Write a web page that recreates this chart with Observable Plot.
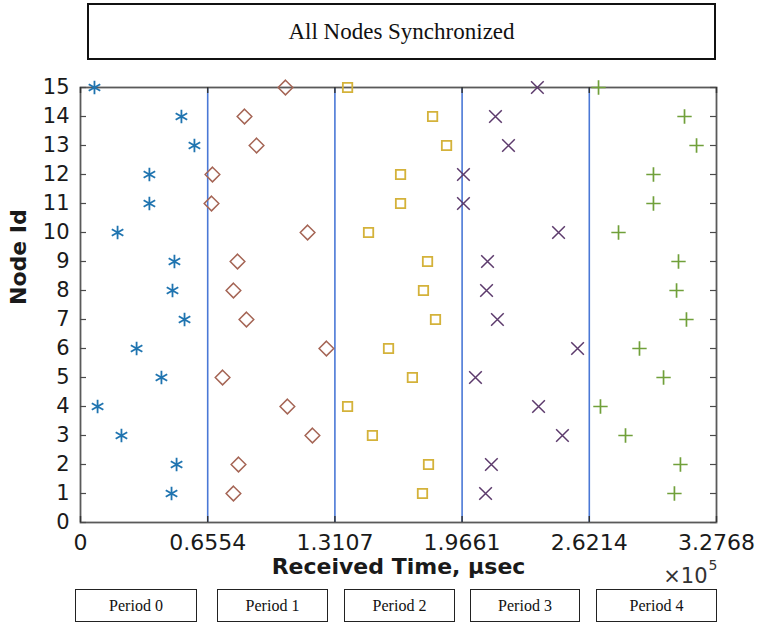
<!DOCTYPE html>
<html>
<head>
<meta charset="utf-8">
<script src="https://cdn.jsdelivr.net/npm/d3@7"></script>
<script src="https://cdn.jsdelivr.net/npm/@observablehq/plot@0.6"></script>
<style>
html, body { margin: 0; padding: 0; background: #fff; }
#page { position: relative; width: 759px; height: 625px; overflow: hidden; }
#title {
  position: absolute; left: 87px; top: 3px; width: 629px; height: 57px;
  border: 2px solid #111; box-sizing: border-box;
  font-family: "Liberation Serif", "Times New Roman", serif; font-size: 23px; color: #111;
  display: flex; align-items: center; justify-content: center;
}
#chart { position: absolute; left: 0; top: 60px; }
.period {
  position: absolute; top: 589px; height: 33px;
  border: 1.5px solid #222; box-sizing: border-box;
  font-family: "Liberation Serif", "Times New Roman", serif; font-size: 16px; color: #111;
  display: flex; align-items: center; justify-content: center;
}
</style>
</head>
<body>
<div id="page">
  <div id="title">All Nodes Synchronized</div>
  <div id="chart"></div>
</div>
<script>
// ---------- data ----------
const nodeIds = [1, 2, 3, 4, 5, 6, 7, 8, 9, 10, 11, 12, 13, 14, 15];
// received times in µsec, per period, indexed by node 1..15
const period0Times = [46900, 49500, 21100, 8800, 41700, 28900, 53600, 47400, 48400, 19100, 35500, 35500, 58700, 52000, 7200];
const period1Times = [78800, 81400, 119500, 106600, 73200, 126700, 85500, 78800, 80900, 117000, 67500, 68000, 90700, 84500, 105600];
const period2Times = [176200, 179300, 150400, 137600, 171000, 158700, 182900, 176700, 178800, 148400, 164900, 164900, 188600, 181400, 137600];
const period3Times = [208700, 211700, 248300, 236000, 203500, 256100, 214800, 209200, 209700, 246300, 197300, 197300, 220500, 213800, 235400];
const period4Times = [306000, 309100, 280800, 267900, 300400, 288000, 312200, 307100, 308100, 277200, 295200, 295200, 317400, 311200, 266900];
const periodBoundaries = [65536, 131072, 196608, 262144];
const xTicks = [0, 65536, 131072, 196608, 262144, 327680];
const xTickLabels = ["0", "0.6554", "1.3107", "1.9661", "2.6214", "3.2768"];
const yTicks = [0, 1, 2, 3, 4, 5, 6, 7, 8, 9, 10, 11, 12, 13, 14, 15];
const periodLabels = ["Period 0", "Period 1", "Period 2", "Period 3", "Period 4"];
const titleText = "All Nodes Synchronized";
const xLabel = "Received Time, µsec";
const yLabel = "Node Id";

// ---------- layout & styles ----------
const W = 759, H = 529, mL = 80, mR = 43, mT = 27, mB = 67;
const fw = W - mL - mR, fh = H - mT - mB;
const seriesStyles = [
  {symbol: "asterisk", stroke: "#1f74b0", r: 6.3, sw: 1.8},
  {symbol: "diamond2", stroke: "#a56555", r: 6.6, sw: 1.5},
  {symbol: "square2",  stroke: "#d4b23a", r: 6.0, sw: 1.8},
  {symbol: "times",    stroke: "#5c3a6c", r: 5.8, sw: 1.5},
  {symbol: "plus",     stroke: "#70a03a", r: 4.7, sw: 1.7}
];
const periodBoxes = [
  {left: 75, width: 122}, {left: 217, width: 111}, {left: 344, width: 111},
  {left: 470, width: 110}, {left: 596, width: 121}
];

const seriesList = [period0Times, period1Times, period2Times, period3Times, period4Times];
const rows = [];
seriesList.forEach((arr, p) => arr.forEach((t, j) => rows.push({node: nodeIds[j], time: t, period: p})));

const dotMarks = seriesStyles.map((s, p) =>
  Plot.dot(rows.filter(d => d.period === p), {
    x: "time", y: "node", symbol: () => s.symbol, r: s.r,
    fill: "none", stroke: s.stroke, strokeWidth: s.sw
  })
);

const chart = Plot.plot({
  width: W, height: H,
  marginLeft: mL, marginRight: mR, marginTop: mT, marginBottom: mB,
  style: {fontFamily: "DejaVu Sans, sans-serif", color: "#1a1a1a", background: "transparent", overflow: "visible"},
  x: {domain: [0, 327680]},
  y: {domain: [0, 15]},
  symbol: {type: "identity"},
  marks: [
    Plot.ruleX(periodBoundaries, {x: d => d, stroke: "#4a78d6", strokeWidth: 1.6}),
    Plot.frame({stroke: "#5a5a5a", strokeWidth: 1.8}),
    // inward ticks (box on)
    Plot.ruleY(yTicks, {y: d => d, insetRight: fw - 6, stroke: "#4a4a4a", strokeWidth: 1.2}),
    Plot.ruleY(yTicks, {y: d => d, insetLeft: fw - 6, stroke: "#4a4a4a", strokeWidth: 1.2}),
    Plot.ruleX(xTicks, {x: d => d, insetBottom: fh - 6, stroke: "#333", strokeWidth: 1.4}),
    Plot.ruleX(xTicks, {x: d => d, insetTop: fh - 6, stroke: "#333", strokeWidth: 1.4}),
    Plot.axisX(xTicks, {tickSize: 0, tickPadding: 12, fontSize: 22, label: null,
      tickFormat: d => xTickLabels[xTicks.indexOf(d)]}),
    Plot.axisY(yTicks, {tickSize: 0, tickPadding: 11, fontSize: 21, label: null}),
    ...dotMarks,
    Plot.text([xLabel], {text: d => d, frameAnchor: "bottom", dy: 51, fontSize: 22, fontWeight: "bold"}),
    Plot.text([yLabel], {text: d => d, frameAnchor: "left", dx: -62, rotate: -90, fontSize: 22, fontWeight: "bold"}),
    Plot.text(["×10"], {text: d => d, frameAnchor: "bottom-right", textAnchor: "end", dx: -9, dy: 60, fontSize: 21, fill: "#333"}),
    Plot.text(["5"], {text: d => d, frameAnchor: "bottom-right", textAnchor: "start", dx: -8, dy: 47, fontSize: 14, fill: "#333"})
  ]
});
document.getElementById("chart").appendChild(chart);
document.getElementById("title").textContent = titleText;

const page = document.getElementById("page");
periodLabels.forEach((lab, i) => {
  const b = document.createElement("div");
  b.className = "period";
  b.style.left = periodBoxes[i].left + "px";
  b.style.width = periodBoxes[i].width + "px";
  b.textContent = lab;
  page.appendChild(b);
});
</script>
</body>
</html>
